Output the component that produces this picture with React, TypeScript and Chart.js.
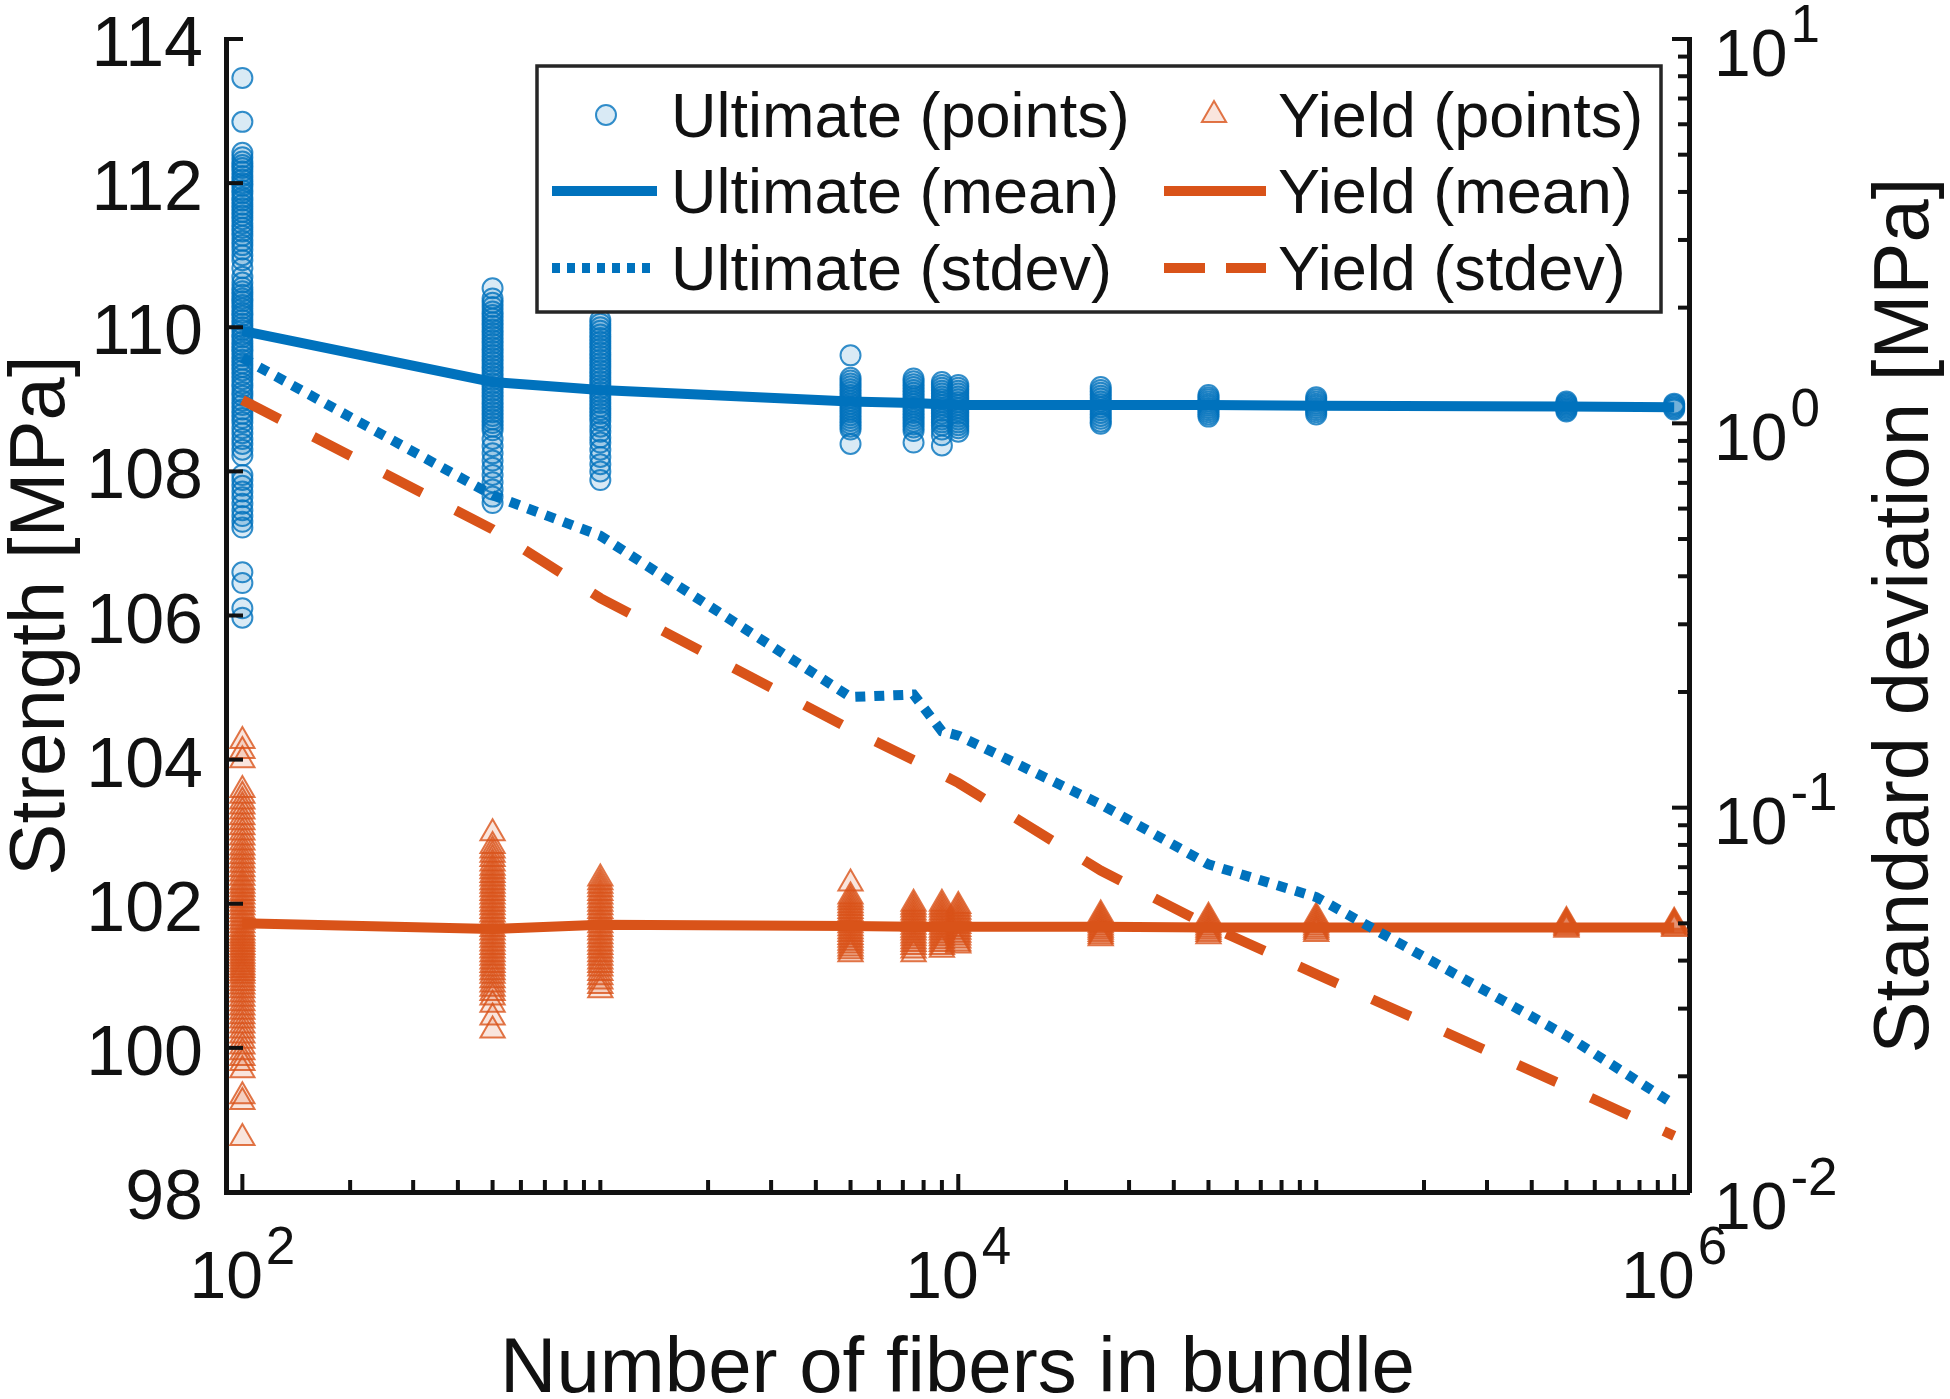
import { useEffect, useRef } from "react";
import { Chart, ChartConfiguration, Plugin, registerables } from "chart.js";
import { drawPoint } from "chart.js/helpers";

Chart.register(...registerables);

// Bundle sizes (number of fibers) that were simulated
const fiberCounts = [100, 500, 1000, 5000, 7500, 9000, 10000, 25000, 50000, 100000, 500000, 1000000];

// Individual ultimate strength samples [MPa], one list per bundle size
const ultimatePoints: number[][] = [
  [113.46, 112.85, 112.42, 112.36, 112.3, 112.25, 112.21, 112.16, 112.1, 112.05, 112.0, 111.96, 111.9,
    111.86, 111.8, 111.76, 111.7, 111.65, 111.6, 111.55, 111.5, 111.44, 111.38, 111.33, 111.27, 111.2,
    111.14, 111.08, 111.0, 110.93, 110.82, 110.7, 110.62, 110.55, 110.5, 110.45, 110.4, 110.36, 110.31,
    110.26, 110.2, 110.16, 110.1, 110.05, 110.0, 109.96, 109.9, 109.86, 109.8, 109.75, 109.7, 109.66,
    109.6, 109.55, 109.5, 109.45, 109.4, 109.34, 109.28, 109.22, 109.17, 109.1, 109.05, 108.98, 108.92,
    108.86, 108.8, 108.74, 108.68, 108.6, 108.53, 108.45, 108.38, 108.3, 108.22, 107.95, 107.88, 107.8,
    107.72, 107.64, 107.55, 107.46, 107.38, 107.3, 107.22, 106.6, 106.45, 106.1, 105.97],
  [110.54, 110.4, 110.34, 110.28, 110.22, 110.17, 110.12, 110.07, 110.02, 109.97, 109.92, 109.87, 109.82,
    109.77, 109.72, 109.67, 109.62, 109.57, 109.52, 109.47, 109.42, 109.37, 109.32, 109.27, 109.22, 109.17,
    109.12, 109.07, 109.02, 108.97, 108.92, 108.87, 108.82, 108.77, 108.72, 108.67, 108.62, 108.57, 108.45,
    108.35, 108.25, 108.15, 108.05, 107.95, 107.85, 107.75, 107.65, 107.56],
  [110.1, 110.05, 110.0, 109.95, 109.9, 109.85, 109.8, 109.75, 109.7, 109.65, 109.6, 109.55, 109.5, 109.45,
    109.4, 109.35, 109.3, 109.25, 109.2, 109.15, 109.1, 109.05, 109.0, 108.95, 108.9, 108.85, 108.8, 108.75,
    108.7, 108.62, 108.55, 108.47, 108.4, 108.3, 108.2, 108.1, 108.0, 107.88],
  [109.61, 109.3, 109.26, 109.22, 109.18, 109.14, 109.1, 109.06, 109.02, 108.98, 108.94, 108.9, 108.86,
    108.82, 108.78, 108.74, 108.7, 108.66, 108.62, 108.58, 108.38],
  [109.29, 109.25, 109.21, 109.17, 109.13, 109.09, 109.05, 109.01, 108.97, 108.93, 108.89, 108.85, 108.81,
    108.77, 108.73, 108.69, 108.65, 108.61, 108.56, 108.4],
  [109.24, 109.2, 109.16, 109.12, 109.08, 109.04, 109.0, 108.96, 108.92, 108.88, 108.84, 108.8, 108.76,
    108.72, 108.68, 108.64, 108.58, 108.5, 108.36],
  [109.2, 109.16, 109.12, 109.08, 109.04, 109.0, 108.96, 108.92, 108.88, 108.84, 108.8, 108.76, 108.72,
    108.68, 108.64, 108.6, 108.55],
  [109.17, 109.13, 109.09, 109.05, 109.01, 108.97, 108.93, 108.89, 108.85, 108.81, 108.77, 108.73, 108.69,
    108.66],
  [109.06, 109.03, 109.0, 108.97, 108.94, 108.91, 108.88, 108.85, 108.82, 108.79, 108.76],
  [109.03, 109.0, 108.97, 108.94, 108.91, 108.88, 108.85, 108.82, 108.79],
  [108.97, 108.95, 108.93, 108.91, 108.89, 108.87, 108.85, 108.83],
  [108.94, 108.92, 108.9, 108.88, 108.86],
];

// Individual yield strength samples [MPa], one list per bundle size
const yieldPoints: number[][] = [
  [104.26, 104.12, 103.99, 103.58, 103.5, 103.42, 103.35, 103.28, 103.2, 103.13, 103.06, 102.99, 102.92,
    102.85, 102.78, 102.72, 102.66, 102.6, 102.54, 102.48, 102.42, 102.36, 102.3, 102.25, 102.2, 102.15,
    102.1, 102.05, 102.0, 101.95, 101.9, 101.85, 101.8, 101.75, 101.7, 101.65, 101.6, 101.56, 101.52,
    101.48, 101.44, 101.4, 101.36, 101.32, 101.28, 101.24, 101.2, 101.16, 101.12, 101.08, 101.04, 101.0,
    100.95, 100.9, 100.85, 100.8, 100.74, 100.68, 100.62, 100.56, 100.5, 100.44, 100.38, 100.31, 100.24,
    100.17, 100.1, 100.02, 99.94, 99.86, 99.79, 99.69, 99.33, 99.25, 98.75],
  [102.98, 102.8, 102.74, 102.68, 102.62, 102.56, 102.5, 102.45, 102.4, 102.35, 102.3, 102.25, 102.2,
    102.15, 102.1, 102.05, 102.0, 101.95, 101.9, 101.85, 101.8, 101.75, 101.7, 101.65, 101.6, 101.55, 101.5,
    101.45, 101.4, 101.35, 101.3, 101.25, 101.2, 101.15, 101.1, 101.05, 101.0, 100.94, 100.88, 100.82,
    100.76, 100.7, 100.6, 100.42, 100.24],
  [102.35, 102.3, 102.25, 102.2, 102.15, 102.1, 102.05, 102.0, 101.95, 101.9, 101.85, 101.8, 101.75, 101.7,
    101.65, 101.6, 101.55, 101.5, 101.45, 101.4, 101.35, 101.3, 101.25, 101.2, 101.15, 101.1, 101.04,
    100.98, 100.92, 100.86, 100.8],
  [102.28, 102.1, 102.06, 102.02, 101.98, 101.94, 101.9, 101.86, 101.82, 101.78, 101.74, 101.7, 101.66,
    101.62, 101.58, 101.54, 101.5, 101.46, 101.42, 101.38, 101.34, 101.3],
  [102.0, 101.96, 101.92, 101.88, 101.84, 101.8, 101.76, 101.72, 101.68, 101.64, 101.6, 101.56, 101.52,
    101.48, 101.44, 101.4, 101.35, 101.3],
  [102.0, 101.96, 101.92, 101.88, 101.84, 101.8, 101.76, 101.72, 101.68, 101.64, 101.6, 101.56, 101.52,
    101.48, 101.44, 101.4, 101.36],
  [101.97, 101.93, 101.89, 101.85, 101.81, 101.77, 101.73, 101.69, 101.65, 101.61, 101.57, 101.53, 101.49,
    101.45, 101.42],
  [101.85, 101.82, 101.79, 101.76, 101.73, 101.7, 101.67, 101.64, 101.61, 101.58, 101.55, 101.52],
  [101.82, 101.79, 101.76, 101.73, 101.7, 101.67, 101.64, 101.61, 101.58, 101.55],
  [101.82, 101.79, 101.76, 101.73, 101.7, 101.67, 101.64, 101.61, 101.58],
  [101.76, 101.74, 101.72, 101.7, 101.68, 101.66, 101.64],
  [101.75, 101.73, 101.71, 101.69, 101.67, 101.65],
];

const ultimateMean = [109.95, 109.24, 109.13, 108.97, 108.95, 108.93, 108.92, 108.92, 108.92, 108.91, 108.9, 108.89];
const yieldMean = [101.73, 101.65, 101.71, 101.69, 101.68, 101.68, 101.68, 101.68, 101.67, 101.67, 101.67, 101.67];
const ultimateStdev = [1.48, 0.65, 0.51, 0.194, 0.197, 0.158, 0.154, 0.102, 0.0712, 0.0585, 0.0255, 0.0169];
const yieldStdev = [1.15, 0.53, 0.351, 0.16, 0.133, 0.122, 0.116, 0.0686, 0.0493, 0.0369, 0.0188, 0.014];

// Axis ticks
const strengthTicks = [98, 100, 102, 104, 106, 108, 110, 112, 114];
const fiberTickExponents = [2, 4, 6];
const stdevTickExponents = [-2, -1, 0, 1];
const minorMultipliers = [2, 3, 4, 5, 6, 7, 8, 9];

const legendRows = [
  ["Ultimate (points)", "Yield (points)"],
  ["Ultimate (mean)", "Yield (mean)"],
  ["Ultimate (stdev)", "Yield (stdev)"],
];

const BLUE = "#0072BD";
const ORANGE = "#D95319";
const INK = "#111111";
const FONT = '"Liberation Sans", Arial, Helvetica, sans-serif';

const legendDash: Record<string, number[]> = {
  "Ultimate (stdev)": [8, 7],
  "Yield (stdev)": [41, 21],
};

function drawPower(ctx: CanvasRenderingContext2D, exponent: string, x: number, baseline: number, align: "left" | "center") {
  ctx.font = `66px ${FONT}`;
  const wb = ctx.measureText("10").width;
  ctx.font = `53px ${FONT}`;
  const ws = ctx.measureText(exponent).width;
  const total = wb + 3 + ws;
  const left = align === "center" ? x - total / 2 : x;
  ctx.textAlign = "left";
  ctx.textBaseline = "alphabetic";
  ctx.font = `66px ${FONT}`;
  ctx.fillText("10", left, baseline);
  ctx.font = `53px ${FONT}`;
  ctx.fillText(exponent, left + wb + 3, baseline - 34);
}

function tick(ctx: CanvasRenderingContext2D, x1: number, y1: number, x2: number, y2: number) {
  ctx.beginPath();
  ctx.moveTo(x1, y1);
  ctx.lineTo(x2, y2);
  ctx.stroke();
}

// MATLAB-like axes: inward ticks, power-of-ten labels, titles and an inset legend
const matlabAxes: Plugin = {
  id: "matlabAxes",
  afterDraw(chart) {
    const { ctx, chartArea: area } = chart;
    const sx = chart.scales.x;
    const sy = chart.scales.y;
    const sr = chart.scales.y2;
    ctx.save();
    ctx.strokeStyle = INK;
    ctx.lineWidth = 4;
    ctx.lineCap = "butt";

    for (let d = 1; d <= 6; d++) {
      for (const m of [1, ...minorMultipliers]) {
        const v = m * Math.pow(10, d);
        if (v <= sx.min * 1.001 || v > sx.max) continue;
        const px = sx.getPixelForValue(v);
        const major = m === 1 && fiberTickExponents.includes(d);
        tick(ctx, px, area.bottom, px, area.bottom - (major ? 18 : 12));
      }
    }
    for (let d = -2; d <= 1; d++) {
      for (const m of [1, ...minorMultipliers]) {
        const v = m * Math.pow(10, d);
        if (v > sr.max * 1.0001) continue;
        const py = sr.getPixelForValue(v);
        tick(ctx, area.right, py, area.right - (m === 1 ? 17 : 11), py);
      }
    }
    for (const v of strengthTicks) {
      const py = sy.getPixelForValue(v);
      tick(ctx, area.left, py, area.left + 17, py);
    }

    // tick labels
    ctx.fillStyle = INK;
    ctx.font = `70px ${FONT}`;
    ctx.textAlign = "right";
    ctx.textBaseline = "alphabetic";
    for (const v of strengthTicks) {
      ctx.fillText(String(v), area.left - 23, sy.getPixelForValue(v) + 27);
    }
    for (const e of fiberTickExponents) {
      drawPower(ctx, String(e), sx.getPixelForValue(Math.pow(10, e)), area.bottom + 106, "center");
    }
    for (const e of stdevTickExponents) {
      drawPower(ctx, String(e), area.right + 25, sr.getPixelForValue(Math.pow(10, e)) + 36.5, "left");
    }

    // axis titles
    ctx.font = `78px ${FONT}`;
    ctx.textAlign = "center";
    ctx.fillText("Number of fibers in bundle", (area.left + area.right) / 2, area.bottom + 200);
    const midY = (area.top + area.bottom) / 2;
    ctx.save();
    ctx.translate(area.left - 162, midY);
    ctx.rotate(-Math.PI / 2);
    ctx.fillText("Strength [MPa]", 0, 0);
    ctx.restore();
    ctx.save();
    ctx.translate(area.right + 239, midY);
    ctx.rotate(-Math.PI / 2);
    ctx.fillText("Standard deviation [MPa]", 0, 0);
    ctx.restore();

    // legend
    const lx = area.left + 311;
    const ly = area.top + 27;
    const lw = area.right - 28 - lx;
    const lh = 246;
    ctx.fillStyle = "#ffffff";
    ctx.fillRect(lx, ly, lw, lh);
    ctx.strokeStyle = "#262626";
    ctx.lineWidth = 3.5;
    ctx.strokeRect(lx, ly, lw, lh);
    const cols = [
      { x1: lx + 15, x2: lx + 120, mx: lx + 69, tx: lx + 134 },
      { x1: lx + 627, x2: lx + 729, mx: lx + 677, tx: lx + 741 },
    ];
    const baselines = [ly + 71, ly + 147, ly + 224];
    legendRows.forEach((row, r) => {
      row.forEach((label, c) => {
        const ds: any = chart.data.datasets.find((d) => d.label === label);
        if (!ds) return;
        const col = cols[c];
        const iy = baselines[r] - 22;
        ctx.save();
        if (ds.showLine === false) {
          ctx.fillStyle = ds.pointBackgroundColor;
          ctx.strokeStyle = ds.pointBorderColor;
          ctx.lineWidth = ds.pointBorderWidth;
          drawPoint(ctx, { pointStyle: ds.pointStyle, radius: ds.pointRadius, borderWidth: ds.pointBorderWidth, rotation: 0 }, col.mx, iy);
        } else {
          ctx.strokeStyle = ds.borderColor;
          ctx.lineWidth = ds.borderWidth;
          ctx.setLineDash(legendDash[label] || []);
          tick(ctx, col.x1, iy, col.x2, iy);
        }
        ctx.restore();
        ctx.fillStyle = INK;
        ctx.font = `63px ${FONT}`;
        ctx.textAlign = "left";
        ctx.fillText(label, col.tx, baselines[r]);
      });
    });
    ctx.restore();
  },
};

const samples = (lists: number[][]) =>
  fiberCounts.flatMap((n, i) => lists[i].map((v) => ({ x: n, y: v })));
const series = (values: number[]) => fiberCounts.map((n, i) => ({ x: n, y: values[i] }));

export default function App() {
  const canvasRef = useRef<HTMLCanvasElement>(null);
  const chartRef = useRef<Chart | null>(null);

  useEffect(() => {
    if (!canvasRef.current) return;
    if (chartRef.current) chartRef.current.destroy();

    const config: ChartConfiguration = {
      type: "line",
      data: {
        datasets: [
          {
            label: "Ultimate (stdev)",
            data: series(ultimateStdev),
            yAxisID: "y2",
            borderColor: BLUE,
            borderWidth: 10,
            borderDash: [10, 9],
            pointRadius: 0,
            order: 1,
          },
          {
            label: "Yield (stdev)",
            data: series(yieldStdev),
            yAxisID: "y2",
            borderColor: ORANGE,
            borderWidth: 10,
            borderDash: [42, 38],
            pointRadius: 0,
            order: 2,
          },
          {
            label: "Ultimate (mean)",
            data: series(ultimateMean),
            yAxisID: "y",
            borderColor: BLUE,
            borderWidth: 10,
            pointRadius: 0,
            order: 3,
          },
          {
            label: "Yield (mean)",
            data: series(yieldMean),
            yAxisID: "y",
            borderColor: ORANGE,
            borderWidth: 10,
            pointRadius: 0,
            order: 4,
          },
          {
            label: "Ultimate (points)",
            data: samples(ultimatePoints),
            yAxisID: "y",
            showLine: false,
            pointStyle: "circle",
            pointRadius: 10,
            pointBorderWidth: 2,
            pointBackgroundColor: "rgba(0,114,189,0.15)",
            pointBorderColor: "rgba(0,114,189,0.8)",
            borderColor: BLUE,
            order: 5,
          },
          {
            label: "Yield (points)",
            data: samples(yieldPoints),
            yAxisID: "y",
            showLine: false,
            pointStyle: "triangle",
            pointRadius: 14,
            pointBorderWidth: 2,
            pointBackgroundColor: "rgba(217,83,25,0.15)",
            pointBorderColor: "rgba(217,83,25,0.8)",
            borderColor: ORANGE,
            order: 6,
          },
        ] as any,
      },
      options: {
        animation: false,
        responsive: true,
        maintainAspectRatio: false,
        events: [],
        layout: { padding: { top: 39, left: 0, right: 0, bottom: 0 } },
        plugins: {
          legend: { display: false },
          tooltip: { enabled: false },
        },
        scales: {
          x: {
            type: "logarithmic",
            min: 90,
            max: 1.1e6,
            grid: { display: false },
            ticks: { display: false },
            border: { display: true, color: INK, width: 5 },
            afterFit: (s: any) => { s.height = 207; },
          },
          y: {
            type: "linear",
            position: "left",
            min: 98,
            max: 114,
            grid: { display: false },
            ticks: { display: false },
            border: { display: true, color: INK, width: 5 },
            afterFit: (s: any) => { s.width = 226; },
          },
          y2: {
            type: "logarithmic",
            position: "right",
            min: 0.01,
            max: 10,
            grid: { display: false },
            ticks: { display: false },
            border: { display: true, color: INK, width: 5 },
            afterFit: (s: any) => { s.width = 261; },
          },
        } as any,
      },
      plugins: [matlabAxes],
    };

    chartRef.current = new Chart(canvasRef.current, config);

    return () => {
      if (chartRef.current) {
        chartRef.current.destroy();
        chartRef.current = null;
      }
    };
  }, []);

  return (
    <div style={{ position: "fixed", left: 0, top: 0, width: 1950, height: 1399, background: "#ffffff" }}>
      <canvas ref={canvasRef} />
    </div>
  );
}
